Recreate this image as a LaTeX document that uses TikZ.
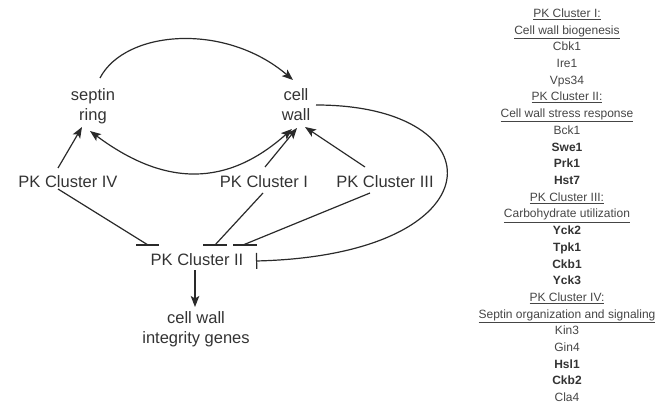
\documentclass[tikz,border=0pt]{standalone}
\usepackage{fontspec}
\setmainfont{Liberation Sans}
\usetikzlibrary{arrows.meta}
\definecolor{txt}{HTML}{333333}
\definecolor{ln}{HTML}{2A2A2A}
\definecolor{lst}{HTML}{454545}
\begin{document}
\begin{tikzpicture}[x=1pt,y=-1pt,
  lbl/.style={inner sep=0pt,align=center,text=txt,font=\fontsize{16.5}{20}\selectfont},
  conn/.style={draw=ln,line width=1.2pt},
  arr/.style={conn,-{Stealth[length=11pt,width=8.5pt,inset=2.5pt]}},
  darr/.style={conn,{Stealth[length=11pt,width=8.5pt,inset=2.5pt]}-{Stealth[length=11pt,width=8.5pt,inset=2.5pt]}},
  inh/.style={conn,-{Bar[width=16pt,line width=1.2pt]}},
  listitem/.style={inner sep=0pt,anchor=base,text=lst,font=\fontsize{12}{14}\selectfont}]
\useasboundingbox (0,0) rectangle (659,409);

% diagram nodes
\node[lbl] (septin) at (93,106.5) {septin\\ring};
\node[lbl] (wall) at (296,105) {cell\\wall};
\node[lbl] (pk4) at (68,182) {PK Cluster IV};
\node[lbl] (pk1) at (264,182) {PK Cluster I};
\node[lbl] (pk3) at (385,182) {PK Cluster III};
\node[lbl] (pk2) at (197,260) {PK Cluster II};
\node[lbl] (genes) at (196,329) {cell wall\\integrity genes};

% bar ends of inhibition lines (horizontal bars)
\coordinate (b4) at ([shift={(-49,-15)}]pk2.center);
\coordinate (b1) at ([shift={(18,-15)}]pk2.center);
\coordinate (b3) at ([shift={(46,-15)}]pk2.center);

% top arc septin -> cell wall
\draw[arr] ([shift={(7,-28.5)}]septin.center)
  .. controls ([shift={(32,-76.5)}]septin.center) and ([shift={(-71,-83)}]wall.center)
  .. ([shift={(-3,-25)}]wall.center);
% lower arc cell wall <-> septin
\draw[darr] ([shift={(-3,24.5)}]septin.center)
  .. controls ([shift={(72,80.5)}]septin.center) and ([shift={(-69,82)}]wall.center)
  .. ([shift={(-4,24)}]wall.center);

% activations
\draw[arr] ([shift={(-10,-14)}]pk4.center) -- ([shift={(-11,20.5)}]septin.center);
\draw[arr] ([shift={(1,-15)}]pk1.center) -- ([shift={(1,23)}]wall.center);
\draw[arr] ([shift={(-20,-15)}]pk3.center) -- ([shift={(9,22)}]wall.center);
\draw[arr] ([shift={(-2,10)}]pk2.center) -- ([shift={(-1,-22)}]genes.center);

% cell wall -| PK Cluster II
\draw[inh] ([shift={(20,0)}]wall.center)
  .. controls ([shift={(204,0)}]wall.center) and ([shift={(303,-5)}]pk2.center)
  .. ([shift={(59,1)}]pk2.center);

% inhibitions onto PK Cluster II with horizontal bars
\draw[conn] ([shift={(-10,7)}]pk4.center) -- (b4);
\draw[conn] ([xshift=-12pt]b4) -- ([xshift=11pt]b4);
\draw[conn] ([shift={(-1,11)}]pk1.center) -- (b1);
\draw[conn] ([xshift=-12pt]b1) -- ([xshift=12pt]b1);
\draw[conn] ([shift={(-15,11)}]pk3.center) -- (b3);
\draw[conn] ([xshift=-10pt]b3) -- ([xshift=14pt]b3);

% right-hand list
\foreach \t [count=\i from 0] in {
  {\underline{PK Cluster I:}},
  {\underline{Cell wall biogenesis}},
  {Cbk1},{Ire1},{Vps34},
  {\underline{PK Cluster II:}},
  {\underline{Cell wall stress response}},
  {Bck1},{\textbf{\color{txt}Swe1}},{\textbf{\color{txt}Prk1}},{\textbf{\color{txt}Hst7}},
  {\underline{PK Cluster III:}},
  {\underline{Carbohydrate utilization}},
  {\textbf{\color{txt}Yck2}},{\textbf{\color{txt}Tpk1}},{\textbf{\color{txt}Ckb1}},{\textbf{\color{txt}Yck3}},
  {\underline{PK Cluster IV:}},
  {\underline{Septin organization and signaling}},
  {Kin3},{Gin4},{\textbf{\color{txt}Hsl1}},{\textbf{\color{txt}Ckb2}},{Cla4}}
  \node[listitem] (item\i) at (567,17.5+16.7*\i) {\t};
\end{tikzpicture}
\end{document}
